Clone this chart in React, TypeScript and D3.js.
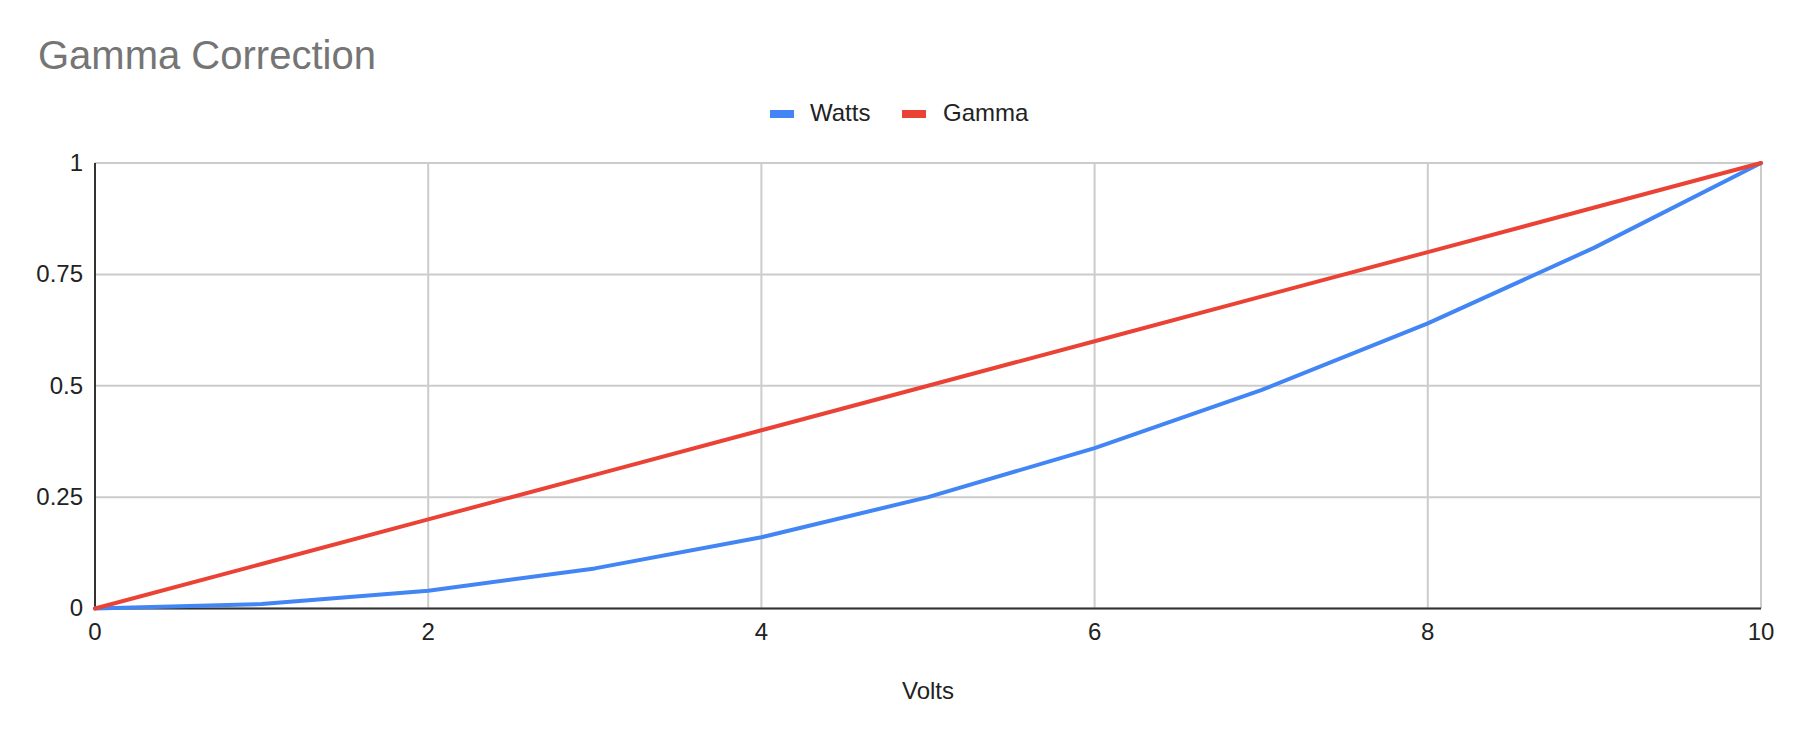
import React from "react";
import * as d3 from "d3";

const volts = [0, 1, 2, 3, 4, 5, 6, 7, 8, 9, 10];
const watts = [0, 0.01, 0.04, 0.09, 0.16, 0.25, 0.36, 0.49, 0.64, 0.81, 1];
const gamma = [0, 0.1, 0.2, 0.3, 0.4, 0.5, 0.6, 0.7, 0.8, 0.9, 1];
const xTicks = [0, 2, 4, 6, 8, 10];
const yTicks = [0, 0.25, 0.5, 0.75, 1];
const seriesNames = ["Watts", "Gamma"];
const colors = ["#4285F4", "#EA4335"];

const W = 1798;
const H = 742;
const left = 95;
const right = 1761;
const top = 163;
const bottom = 608.5;
const font = "Arial, 'Liberation Sans', sans-serif";

export default function App() {
  const x = d3.scaleLinear().domain([0, 10]).range([left, right]);
  const y = d3.scaleLinear().domain([0, 1]).range([bottom, top]);
  const line = d3
    .line<number>()
    .x((_, i) => x(volts[i]))
    .y((d) => y(d));
  const series = [watts, gamma];
  const legendX = [[770, 810], [902, 943]];

  return (
    <svg
      width={W}
      height={H}
      style={{ position: "absolute", left: 0, top: 0, background: "#fff" }}
      fontFamily={font}
    >
      <rect x={0} y={0} width={W} height={H} fill="#fff" />
      <text x={38} y={69} fontSize={40} fill="#757575">
        Gamma Correction
      </text>
      {seriesNames.map((n, i) => (
        <g key={n}>
          <rect x={legendX[i][0]} y={110} width={24} height={8} fill={colors[i]} />
          <text x={legendX[i][1]} y={121} fontSize={24} fill="#222">
            {n}
          </text>
        </g>
      ))}
      {yTicks.map((t) => (
        <line key={"gy" + t} x1={left} x2={right} y1={y(t)} y2={y(t)} stroke="#cccccc" strokeWidth={2} />
      ))}
      {xTicks.map((t) => (
        <line key={"gx" + t} x1={x(t)} x2={x(t)} y1={top} y2={bottom} stroke="#cccccc" strokeWidth={2} />
      ))}
      <line x1={left} x2={left} y1={top} y2={bottom} stroke="#333" strokeWidth={2} />
      <line x1={left} x2={right} y1={bottom} y2={bottom} stroke="#333" strokeWidth={2} />
      {yTicks.map((t) => (
        <text key={"ty" + t} x={83} y={y(t)} dy="0.33em" textAnchor="end" fontSize={24} fill="#222">
          {String(t)}
        </text>
      ))}
      {xTicks.map((t) => (
        <text key={"tx" + t} x={x(t)} y={640} textAnchor="middle" fontSize={24} fill="#222">
          {String(t)}
        </text>
      ))}
      <text x={928} y={699} textAnchor="middle" fontSize={24} fill="#222">
        Volts
      </text>
      {series.map((s, i) => (
        <path
          key={i}
          d={line(s) || ""}
          fill="none"
          stroke={colors[i]}
          strokeWidth={4}
          strokeLinejoin="round"
          strokeLinecap="round"
        />
      ))}
    </svg>
  );
}
